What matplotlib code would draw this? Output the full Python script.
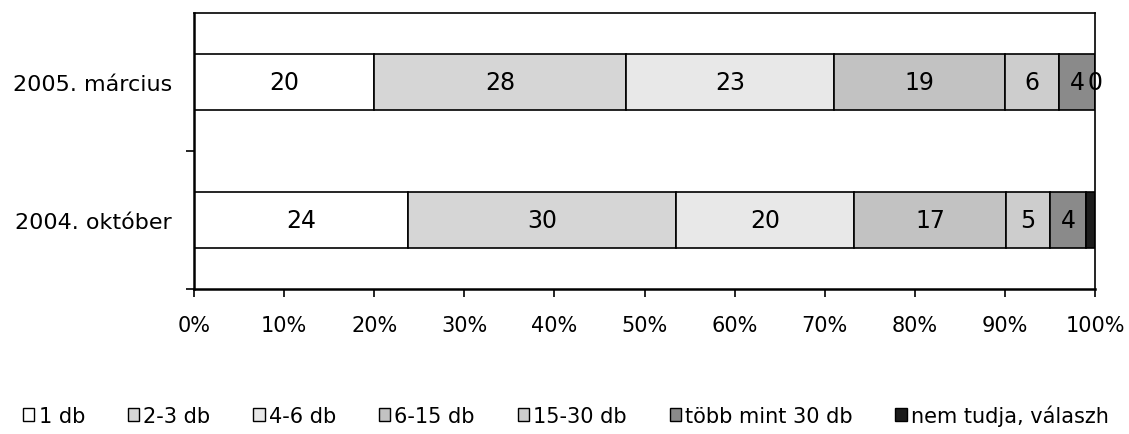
import matplotlib
matplotlib.use("Agg")
import matplotlib.pyplot as plt
from matplotlib.patches import Patch
from matplotlib.ticker import FixedLocator, FuncFormatter
import numpy as np

# ---- data ----
categories = ["2004. október", "2005. március"]
series_names = ["1 db", "2-3 db", "4-6 db", "6-15 db", "15-30 db",
                "több mint 30 db", "nem tudja, válaszh"]
values_2004 = [24, 30, 20, 17, 5, 4, 1]
values_2005 = [20, 28, 23, 19, 6, 4, 0]
x_ticks = [0, 10, 20, 30, 40, 50, 60, 70, 80, 90, 100]
# (row, series) whose value label is not visible in the reference
hidden_labels = [(0, 6)]

# ---- style ----
colors = ["#ffffff", "#d6d6d6", "#e8e8e8", "#c2c2c2", "#cdcdcd",
          "#8a8a8a", "#1c1c1c"]

plt.rcParams["font.family"] = ["DejaVu Sans"]

W, H = 1129, 435
fig = plt.figure(figsize=(W / 100, H / 100), dpi=100)
ax = fig.add_axes([194 / W, 1 - 290 / H, (1095 - 194) / W, (290 - 14) / H])

data = np.array([values_2004, values_2005], dtype=float)
totals = data.sum(axis=1)
pct = data / totals[:, None] * 100.0

ypos = np.arange(len(categories))
left = np.zeros(len(categories))
for i, name in enumerate(series_names):
    bars = ax.barh(ypos, pct[:, i], left=left, height=0.4,
                   color=colors[i], edgecolor="black", linewidth=1.2,
                   label=name, zorder=2)
    labels = ["" if (r, i) in hidden_labels else f"{int(v)}"
              for r, v in enumerate(data[:, i])]
    ax.bar_label(bars, labels=labels, label_type="center",
                 fontsize=17, color="black", zorder=3)
    left = left + pct[:, i]

ax.set_xlim(0, 100)
ax.set_ylim(-0.5, 1.5)

ax.xaxis.set_major_locator(FixedLocator(x_ticks))
ax.xaxis.set_major_formatter(FuncFormatter(lambda v, p: f"{int(round(v))}%"))
ax.tick_params(axis="x", direction="out", length=6, width=1.2,
               labelsize=15, pad=13, colors="black")

ax.set_yticks(ypos)
ax.set_yticklabels(categories)
ax.yaxis.set_minor_locator(FixedLocator([-0.5, 0.5]))
ax.tick_params(axis="y", which="major", length=0, labelsize=16, pad=16)
ax.tick_params(axis="y", which="minor", direction="out", length=6, width=1.2)

for side in ["left", "bottom"]:
    ax.spines[side].set_linewidth(1.8)
for side in ["top", "right"]:
    ax.spines[side].set_linewidth(1.2)
for s in ax.spines.values():
    s.set_color("black")

handles = [Patch(facecolor=c, edgecolor="black", linewidth=1.0) for c in colors]
fig.legend(handles, series_names, loc="center left",
           bbox_to_anchor=(23 / W, 1 - 416 / H), ncol=7, frameon=False,
           fontsize=15, handlelength=0.55, handleheight=0.55,
           handletextpad=0.2, columnspacing=2.05,
           borderpad=0, borderaxespad=0)

fig.savefig("out.png", dpi=100)
